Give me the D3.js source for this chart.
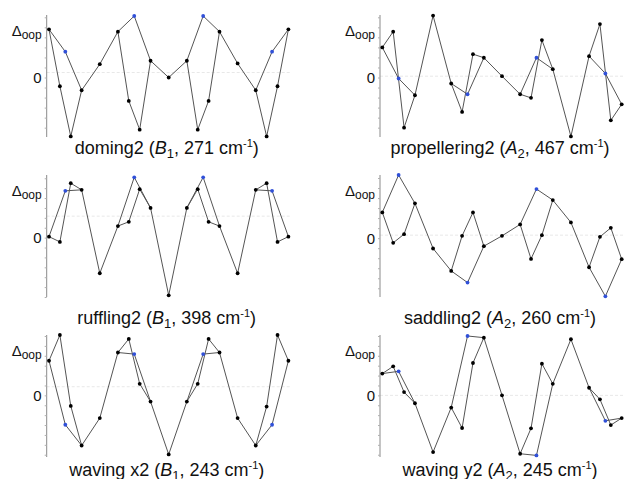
<!DOCTYPE html>
<html>
<head>
<meta charset="utf-8">
<script src="https://cdn.jsdelivr.net/npm/d3@7"></script>
<style>
  body { margin: 0; background: #fff; }
  svg { display: block; font-family: "Liberation Sans", Arial, sans-serif; }
</style>
</head>
<body>
<div id="chart"></div>
<script>
// atom slots along the macrocycle (Ca, Cb, N, Cb, Ca, meso, ...)
const xSlots = [0, 1, 1.5, 2, 3, 4.667, 6.333, 7.333, 7.833, 8.333, 9.333, 11,
                12.667, 13.667, 14.167, 14.667, 15.667, 17.333, 19, 20, 20.5, 21, 22];
const nitrogenSlots = [2, 8, 14, 20];

const modeNames = ['doming2', 'propellering2', 'ruffling2', 'saddling2', 'waving x2', 'waving y2'];
const symLetters = ['B', 'A', 'B', 'A', 'B', 'A'];
const symIndex = ['1', '2', '1', '2', '1', '2'];
const frequencies = [271, 467, 398, 260, 243, 245];

// displacements, arbitrary units, relative to the "0" tick
const doming2 = [48, -8.7, 25.7, -58.7, -12.7, 13.3, 45.7, -23.3, 61.3, -52, 16.7, 0,
                 16.7, -52, 61.3, -23.3, 45.7, 14, -12.7, -58.7, 25.7, -8.7, 48];
const propellering2 = [30, 45.7, -1, -50, -17.7, 61.7, -6, -34.3, -16.7, 23.3, 19.7, 1.3,
                       -16.7, -20.3, 19.7, 37.3, 8.3, -58.7, 21.3, 53.3, 4, -42.7, -26.7];
const ruffling2 = [1, -4.3, 47.3, 55, 48.3, -36, 11.7, 16, 61, 49, 30, -58.3,
                   30, 49, 61, 16, 11.7, -36, 48.3, 55, 47.3, -4.3, 1];
const saddling2 = [25.7, -4.7, 63, 4, 34.7, -10.3, -32.7, 2.3, -44.3, 25.7, -8, 2.3,
                   13.7, -20.7, 49, 3, 38, 15.7, -29, 1.3, -58, 10.3, -21];
const wavingX2 = [35, 61, -29.7, -10.7, -50.7, -23, 43.3, 57, 41.7, 11.7, -6.3, -59.7,
                  -6.3, 11.7, 41.7, 57, 43.3, -23, -50.7, -11.3, -29.7, 61, 35];
const wavingY2 = [22, 29.3, 24.3, 3.3, -8, -57.3, -12.3, -33, 60, 32.7, 58.3, 0,
                  -59, -33.3, -60.7, 32, 11.7, 56.7, 7.7, -4, -25.7, -30, -23];

const seriesList = [doming2, propellering2, ruffling2, saddling2, wavingX2, wavingY2];
const yDomains = [[-59.3, 62.3], [-59.3, 62.3], [-60, 63.3], [-58.7, 63], [-62.3, 61], [-62.3, 61]];
const refLevels = [5, 1.3, 21.7, 3, 8.7, 0];

const width = 625, height = 479;
const colX = [46.7, 380];
const rowTop = [15, 175, 335];
const titleY = [154, 324, 476];
const axisLen = 122;

const svg = d3.select('#chart').append('svg')
    .attr('width', width)
    .attr('height', height);

// bonds: pyrrole pentagons plus meso bridges
const bonds = [];
for (let r = 0; r < 4; r++) {
    const b = 6 * r;
    bonds.push([b, b + 1], [b + 1, b + 3], [b + 3, b + 4], [b, b + 2], [b + 2, b + 4]);
    if (r < 3) bonds.push([b + 4, b + 5], [b + 5, b + 6]);
}

seriesList.forEach((vals, i) => {
    const col = i % 2, row = Math.floor(i / 2);
    const ax = colX[col], top = rowTop[row];

    const x = d3.scaleLinear().domain([0, 22]).range([ax + 2.3, ax + 241.7]);
    const y = d3.scaleLinear().domain(yDomains[i]).range([top + axisLen, top]);

    const g = svg.append('g').attr('class', 'panel');

    // reference line
    g.append('line')
        .attr('x1', ax).attr('x2', ax + 245)
        .attr('y1', y(refLevels[i])).attr('y2', y(refLevels[i]))
        .attr('stroke', '#e8e8e8')
        .attr('stroke-dasharray', '3,2')
        .attr('stroke-width', 1);

    // axis with small ticks
    const axis = d3.axisLeft(y)
        .tickValues(d3.range(Math.ceil(yDomains[i][0] / 10) * 10, yDomains[i][1], 10))
        .tickSize(2)
        .tickFormat('');
    const ag = g.append('g')
        .attr('transform', `translate(${ax},0)`)
        .call(axis);
    ag.select('.domain').attr('stroke', '#8a8a8a').attr('d', `M0,${top}V${top + axisLen}`);
    ag.selectAll('.tick line').attr('stroke', '#b0b0b0');

    // "0" label
    g.append('text')
        .attr('x', ax - 5)
        .attr('y', y(0))
        .attr('text-anchor', 'end')
        .attr('dominant-baseline', 'central')
        .attr('font-size', 15)
        .attr('fill', '#111')
        .text('0');

    // Δoop label
    const lab = g.append('text')
        .attr('x', ax - 5)
        .attr('y', top + 21)
        .attr('text-anchor', 'end')
        .attr('font-size', 15)
        .attr('fill', '#111');
    lab.append('tspan').text('Δ');
    lab.append('tspan').attr('font-size', 12).attr('dy', 3).text('oop');

    // bonds
    g.selectAll('line.bond').data(bonds).enter().append('line')
        .attr('class', 'bond')
        .attr('x1', d => x(xSlots[d[0]])).attr('y1', d => y(vals[d[0]]))
        .attr('x2', d => x(xSlots[d[1]])).attr('y2', d => y(vals[d[1]]))
        .attr('stroke', '#555')
        .attr('stroke-width', 1);

    // atoms
    g.selectAll('circle').data(vals).enter().append('circle')
        .attr('cx', (d, j) => x(xSlots[j]))
        .attr('cy', d => y(d))
        .attr('r', 1.9)
        .attr('fill', (d, j) => nitrogenSlots.includes(j) ? '#3050d8' : '#000');

    // title
    const t = g.append('text')
        .attr('x', ax + 120)
        .attr('y', titleY[row])
        .attr('text-anchor', 'middle')
        .attr('font-size', 18)
        .attr('fill', '#111');
    t.append('tspan').text(modeNames[i] + ' (');
    t.append('tspan').attr('font-style', 'italic').text(symLetters[i]);
    t.append('tspan').attr('font-size', 13).attr('dy', 4).text(symIndex[i]);
    t.append('tspan').attr('dy', -4).text(', ' + frequencies[i] + ' cm');
    t.append('tspan').attr('font-size', 11).attr('dy', -7).text('-1');
    t.append('tspan').attr('dy', 7).text(')');
});
</script>
</body>
</html>
